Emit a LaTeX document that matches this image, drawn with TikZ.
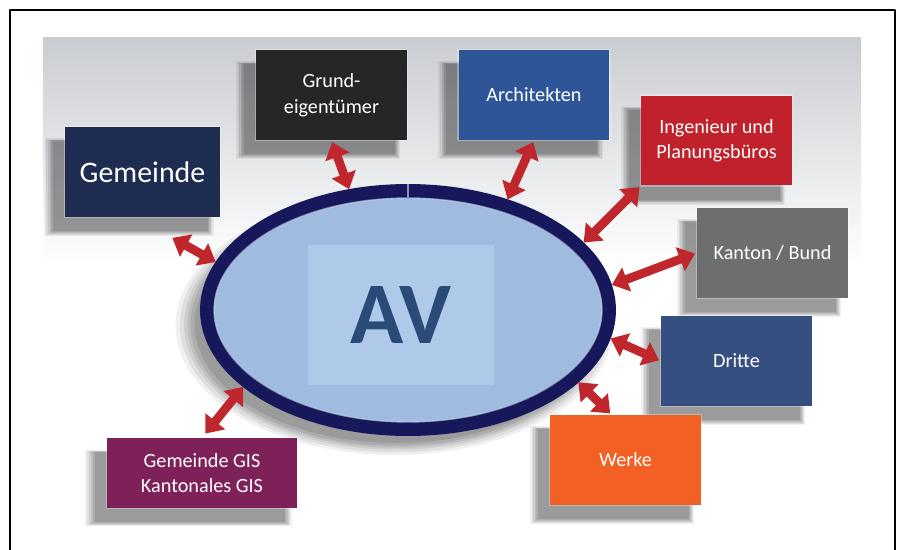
\documentclass[tikz,border=0pt]{standalone}
\usepackage{fontspec}
\setmainfont{Carlito}
\usetikzlibrary{arrows.meta,shapes.geometric,shadows}
\definecolor{backgray}{HTML}{C9CCD1}
\definecolor{ringblue}{HTML}{17175C}
\definecolor{avfill}{HTML}{9FBCE0}
\definecolor{avsquare}{HTML}{AFCAE9}
\definecolor{avtext}{HTML}{2A4A78}
\definecolor{gemblue}{HTML}{1F2C52}
\definecolor{grundblack}{HTML}{262626}
\definecolor{archblue}{HTML}{2E5597}
\definecolor{ingred}{HTML}{C1212A}
\definecolor{kantongray}{HTML}{6D6E70}
\definecolor{dritteblue}{HTML}{354F81}
\definecolor{werkeorange}{HTML}{F26024}
\definecolor{gispurple}{HTML}{7D2158}
\definecolor{arrowred}{HTML}{C0272D}
\begin{document}
\begin{tikzpicture}[x=0.02cm,y=-0.02cm,line join=round,
    soft shadow/.style={
      general shadow={fill=black,opacity=0.06,shadow xshift=-7pt,shadow yshift=-8pt,shadow scale=1.09},
      general shadow={fill=black,opacity=0.07,shadow xshift=-7pt,shadow yshift=-8pt,shadow scale=1.07},
      general shadow={fill=black,opacity=0.08,shadow xshift=-7pt,shadow yshift=-8pt,shadow scale=1.05},
      general shadow={fill=black,opacity=0.08,shadow xshift=-7pt,shadow yshift=-8pt,shadow scale=1.035},
      general shadow={fill=black,opacity=0.09,shadow xshift=-7pt,shadow yshift=-8pt,shadow scale=1.02},
      general shadow={fill=black,opacity=0.10,shadow xshift=-7pt,shadow yshift=-8pt}},
    partner/.style={minimum width=3.02cm,minimum height=1.8cm,inner sep=2pt,
      text=white,align=center,font=\fontsize{11.5}{14.5}\selectfont,soft shadow},
    bevel/.style={draw=white,draw opacity=0.3,line width=0.8pt},
    link/.style={draw=arrowred,line width=5pt,shorten <=1pt,
      {Triangle[length=9pt,width=14pt]}-{Triangle[length=9pt,width=14pt]}}]
  \useasboundingbox (0,0) rectangle (898,550);
  % frame and grey backdrop
  \shade[top color=backgray,bottom color=white] (43,38) rectangle (861,265);
  \draw[line width=1.2pt] (10,551) -- (10,10) -- (895,10) -- (895,551);

  % the AV ring
  \node[ellipse,draw=ringblue,line width=0.28cm,fill=avfill,
    minimum width=8.04cm,minimum height=4.76cm,inner sep=0pt,soft shadow]
    (av) at (408,310) {};
  \draw[white!50!avfill,line width=0.8pt,opacity=0.6] (av.center) ellipse [x radius=3.88cm,y radius=2.24cm];
  \draw[white!40!ringblue!60!avfill,line width=1.2pt] (av.north) -- ++(0,15);
  \node[fill=avsquare,minimum width=3.74cm,minimum height=2.8cm,inner sep=0pt,
    text=avtext,font=\bfseries\fontsize{50}{50}\selectfont] (avbox) at (401,315) {AV};

  % partners
  \node[partner,fill=gemblue,minimum width=3.1cm,font=\fontsize{17}{20}\selectfont] (gemeinde) at (142.5,172) {Gemeinde};
  \node[partner,fill=grundblack] (grund) at (331.5,95) {Grund-\\eigentümer};
  \node[partner,fill=archblue] (archi) at (534,95) {Architekten};
  \node[partner,fill=ingred] (ingenieur) at (716.5,140.5) {Ingenieur und\\Planungsbüros};
  \node[partner,fill=kantongray] (kanton) at (772.5,253) {Kanton / Bund};
  \node[partner,fill=dritteblue] (dritte) at (736.5,361) {Dritte};
  \node[partner,fill=werkeorange] (werke) at (625.5,460) {Werke};
  \node[partner,fill=gispurple,minimum width=3.8cm,minimum height=1.4cm] (gis) at (202,473) {Gemeinde GIS\\Kantonales GIS};
  \foreach \unit in {gemeinde,grund,archi,ingenieur,kanton,dritte,werke,gis}
    \draw[bevel] (\unit.south west) rectangle (\unit.north east);

  % links to the ring
  \draw[link,shorten <=24pt] ([xshift=-0.14cm]gemeinde.south) -- (av.166);
  \draw[link] (grund.south) -- (av.116);
  \draw[link] (archi.south) -- (av.48);
  \draw[link] (ingenieur.south west) -- (av.21);
  \draw[link] (kanton.west) -- (av.7);
  \draw[link] (dritte.west) -- (av.-8);
  \draw[link] ([xshift=-0.28cm]werke.north) -- (av.-23);
  \draw[link,shorten <=3pt] (gis.north) -- (av.205);
\end{tikzpicture}
\end{document}
